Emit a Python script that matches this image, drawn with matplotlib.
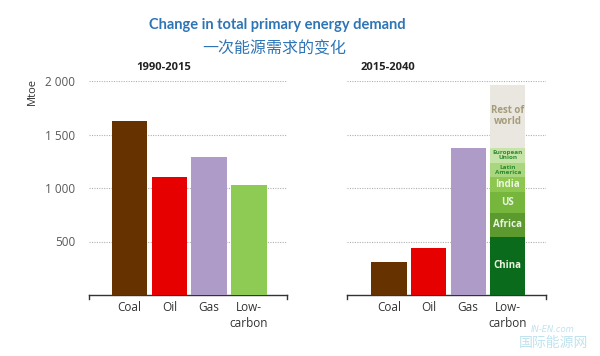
import matplotlib
matplotlib.use("Agg")
import matplotlib.pyplot as plt
import numpy as np

# ---- data ----
categories = ["Coal", "Oil", "Gas", "Low-\ncarbon"]
hist_values = [1623, 1103, 1288, 1028]          # 1990-2015
proj_values = [305, 439, 1374]                   # 2015-2040 (Coal, Oil, Gas)
lowc_regions = ["China", "Africa", "US", "India", "Latin\nAmerica", "European\nUnion", "Rest of\nworld"]
lowc_values = [545, 224, 191, 146, 130, 141, 588]
yticks = [500, 1000, 1500, 2000]
ytick_labels = ["500", "1 000", "1 500", "2 000"]

bar_colors = ["#663300", "#E60000", "#AE9BC8", "#8DCB55"]
region_colors = ["#0B6B1C", "#5C9A2F", "#76B63C", "#8DC74F", "#A9D67E", "#C6E4A9", "#E9E7DF"]
region_text_colors = ["#E9F5E0", "#E9F5E0", "#E9F5E0", "#E9F5E0", "#2E8B2E", "#2E8B2E", "#A59C7A"]
region_font = [7, 7, 7, 7, 4.6, 4.6, 7]

W, H = 600, 356
fig = plt.figure(figsize=(6, 3.56), dpi=100)
fig.patch.set_facecolor("white")

def px_axes(x0, x1, ytop, ybot):
    return fig.add_axes([x0 / W, 1 - ybot / H, (x1 - x0) / W, (ybot - ytop) / H])

axL = px_axes(89, 287, 81, 295)
axR = px_axes(346.7, 545.7, 81, 295)

x = np.arange(len(categories))
barw = 0.89

def style(ax, xlim, show_y):
    ax.set_ylim(0, 2000)
    ax.set_xlim(*xlim)
    for s in ["top", "right", "left"]:
        ax.spines[s].set_visible(False)
    ax.spines["bottom"].set_color("#333333")
    ax.spines["bottom"].set_linewidth(1.0)
    ax.set_yticks(yticks)
    if show_y:
        ax.set_yticklabels(ytick_labels, fontsize=8.5, color="#595959", family="Open Sans")
    else:
        ax.set_yticklabels([])
    ax.tick_params(axis="y", length=0, pad=10)
    ax.tick_params(axis="x", length=0, pad=4)
    ax.set_xticks(x)
    ax.set_xticklabels(categories, fontsize=8.5, color="#333333", family="Open Sans", linespacing=1.3)
    ax.grid(axis="y", linestyle=(0, (1, 1.2)), color="#B0B0B0", linewidth=0.8)
    ax.set_axisbelow(True)
    for xe in (0, 1):
        ax.plot([xe, xe], [0, -0.018], transform=ax.transAxes, color="#333333", lw=1.0, clip_on=False)

style(axL, (-1.02, 3.96), True)
style(axR, (-1.07, 3.96), False)

axL.bar(x, hist_values, width=barw, color=bar_colors, zorder=3)
axR.bar(x[:3], proj_values, width=barw, color=bar_colors[:3], zorder=3)

bottom = 0
for name, v, c, tc, fs in zip(lowc_regions, lowc_values, region_colors, region_text_colors, region_font):
    axR.bar(x[3], v, bottom=bottom, width=barw, color=c, zorder=3)
    axR.text(x[3], bottom + v / 2, name, ha="center", va="center", fontsize=fs,
             color=tc, fontweight="bold", family="Open Sans", linespacing=0.95, zorder=4)
    bottom += v

axL.set_ylabel("Mtoe", fontsize=8, color="#333333", family="Open Sans")
axL.yaxis.set_label_coords(-0.26, 0.95)

fig.text(164 / W, 1 - 67 / H, "1990-2015", ha="center", va="center", fontsize=8,
         fontweight="bold", color="#222222", family="Open Sans")
fig.text(388 / W, 1 - 67 / H, "2015-2040", ha="center", va="center", fontsize=8,
         fontweight="bold", color="#222222", family="Open Sans")

fig.text(277 / W, 1 - 25 / H, "Change in total primary energy demand", ha="center", va="center",
         fontsize=10.5, fontweight="bold", color="#2E75B6", family="Lato")
fig.text(274 / W, 1 - 49 / H, "一次能源需求的变化", ha="center", va="center",
         fontsize=11.5, fontweight="medium", color="#2E75B6", family=["Noto Sans CJK SC", "DejaVu Sans"])

# watermark
fig.text(553 / W, 1 - 330 / H, "IN-EN.com", ha="center", va="center", fontsize=6,
         color="#BFE3EE", fontstyle="italic", family="DejaVu Sans")
fig.text(553 / W, 1 - 343 / H, "国际能源网", ha="center", va="center", fontsize=10,
         color="#BFE3EE", family=["Noto Sans CJK SC", "DejaVu Sans"])

fig.savefig("out.png", dpi=100, facecolor="white")
